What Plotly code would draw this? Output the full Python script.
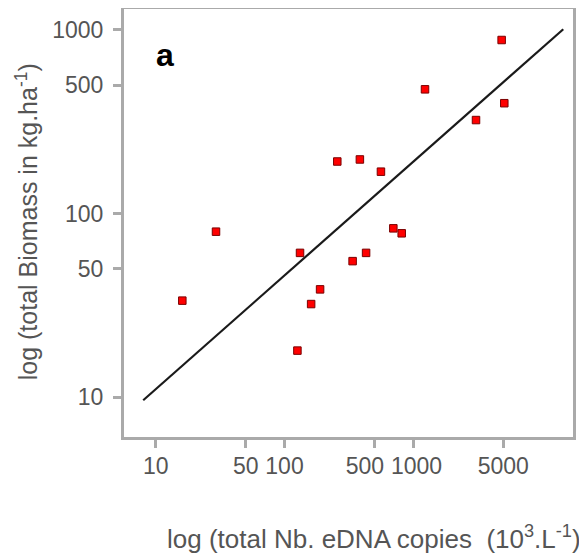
import plotly.graph_objects as go

# total number of eDNA copies (10^3 per L) and total biomass (kg/ha)
edna_copies = [4853, 1233, 5088, 3069, 257, 385, 561, 700, 813, 132, 430, 338, 189, 161, 126, 29.4, 16.1]
biomass = [882, 475, 399, 323, 192, 197, 169, 83, 78, 61, 61, 55, 38.6, 32.1, 17.9, 79.6, 33.5]

# regression line end points
fit_x = [8.0, 14600]
fit_y = [9.6, 1010]

x_tickvals = [10, 50, 100, 500, 1000, 5000]
x_ticktext = ["10", "50", "100", "500\u00a0\u00a0\u00a0", "\u00a01000", "5000"]
y_tickvals = [10, 50, 100, 500, 1000]
y_ticktext = ["10", "50", "100", "500", "1000"]

FONT = "Liberation Sans, Arial, sans-serif"

fig = go.Figure()
fig.add_trace(go.Scatter(x=fit_x, y=fit_y, mode="lines",
                         line=dict(color="#1a1a1a", width=2.2), showlegend=False,
                         hoverinfo="skip"))
fig.add_trace(go.Scatter(x=edna_copies, y=biomass, mode="markers",
                         marker=dict(symbol="square", size=7.5, color="#ff0000",
                                     line=dict(width=1, color="#7a0000")),
                         showlegend=False))

axis_common = dict(type="log", showgrid=False, zeroline=False, showline=True,
                   mirror=True, linecolor="#aaaaaa", linewidth=3,
                   ticks="outside", ticklen=8, tickwidth=3, tickcolor="#aaaaaa",
                   automargin=False, tickangle=0,
                   tickfont=dict(family=FONT, size=23, color="#555555"))

fig.update_xaxes(range=[0.754, 4.240], tickmode="array", tickvals=x_tickvals,
                 ticktext=x_ticktext, ticklabelstandoff=-2, **axis_common)
fig.update_yaxes(range=[0.782, 3.1144], tickmode="array", tickvals=y_tickvals,
                 ticktext=y_ticktext, ticklabelstandoff=5, **axis_common)

# page body has an 8px margin, so the figure is drawn 8px in from the window edge
fig.update_layout(
    width=579, height=547,
    margin=dict(l=116, r=14, t=1, b=118, pad=0, autoexpand=False),
    plot_bgcolor="white", paper_bgcolor="white",
    font=dict(family=FONT, color="#555555"),
    annotations=[
        dict(text="a", xref="paper", yref="paper", x=0.0913, y=0.892,
             xanchor="center", yanchor="middle", showarrow=False,
             font=dict(family=FONT, size=32, color="black", weight="bold")),
        dict(text="log (total Nb. eDNA copies\u00a0\u00a0(10<sup>3</sup>.L<sup>-1</sup>)",
             xref="paper", yref="paper", x=0.091, y=-0.234,
             xanchor="left", yanchor="middle", showarrow=False,
             font=dict(family=FONT, size=26, color="#555555")),
        dict(text="log (total Biomass in kg.ha<sup>-1</sup>)",
             xref="paper", yref="paper", x=-0.217, y=0.503, textangle=-90,
             xanchor="center", yanchor="middle", showarrow=False,
             font=dict(family=FONT, size=25, color="#555555")),
    ],
)

fig.write_html("out.html")
